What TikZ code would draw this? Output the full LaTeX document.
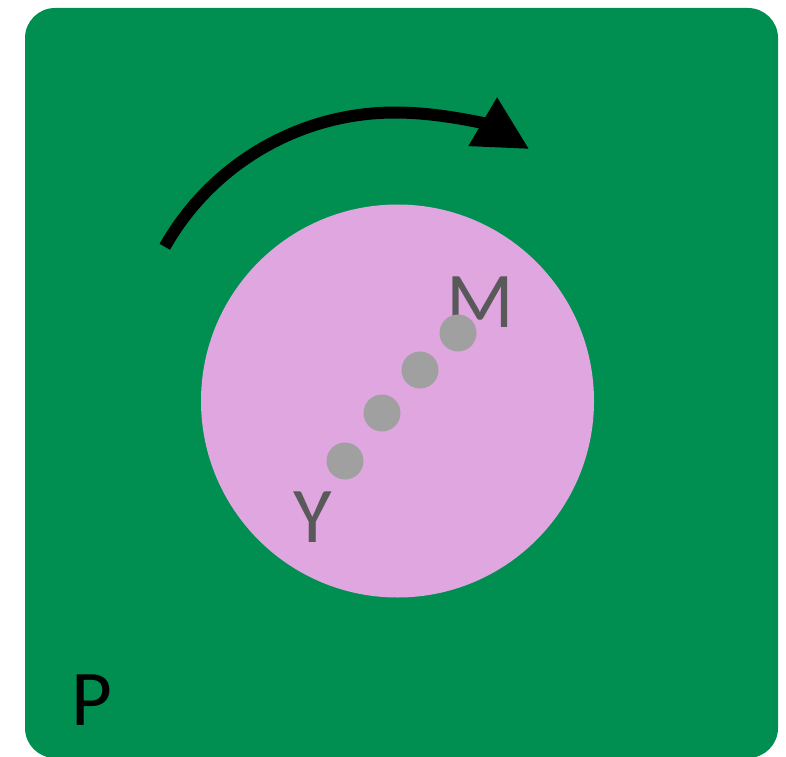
\documentclass[tikz,border=0pt]{standalone}
\usepackage{fontspec}
\setmainfont{Carlito}
\usepackage{tikz}
\usetikzlibrary{arrows.meta,positioning,calc}

\definecolor{bggreen}{HTML}{008F50}
\definecolor{cellpink}{HTML}{E0A6E0}
\definecolor{dotgray}{HTML}{A0A0A0}
\definecolor{labelgray}{HTML}{595959}

\begin{document}
\begin{tikzpicture}[
  x=1pt, y=1pt,
  panel/.style={fill=bggreen, rounded corners=30pt},
  cell/.style={circle, fill=cellpink, minimum size=393pt, inner sep=0pt},
  granule/.style={circle, fill=dotgray, minimum size=37pt, inner sep=0pt},
  tag/.style={inner sep=0pt, font=\fontsize{79}{80}\selectfont},
  turn/.style={line width=12pt, -{Triangle[length=54pt, width=53pt]}}
]
\useasboundingbox (0,0) rectangle (786,756);

% background
\fill[panel] (25,-2) rectangle (778,748);

% cell
\node[cell] (cell) at (397.5,355) {};

% labels
\node[tag, text=labelgray] (lm) at (480,454) {M};
\node[tag, text=labelgray] (ly) at (313,239) {Y};
\node[tag, text=black] (lp) at (92,56) {P};

% granules
\node[granule] (g1) at (345,295) {};
\node[granule] (g2) at (382,343) {};
\node[granule] (g3) at (420,386) {};
\node[granule] (g4) at (458,423) {};

% rotation arrow
\coordinate (pivot) at (395,379);
\draw[turn] ($(pivot)+(150.5:264.5)$) arc[start angle=150.5, end angle=59.5, radius=264.5];

\end{tikzpicture}
\end{document}
